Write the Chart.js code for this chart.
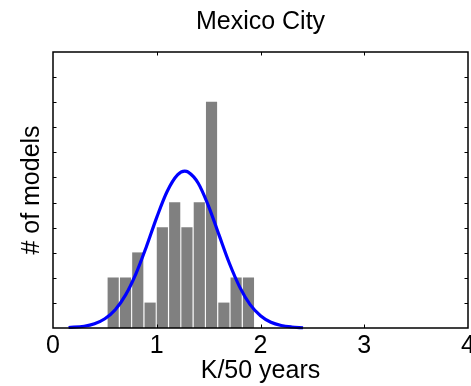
<!DOCTYPE html>
<html>
<head>
<meta charset="utf-8">
<script src="https://cdn.jsdelivr.net/npm/chart.js@4/dist/chart.umd.min.js"></script>
<style>
  html, body { margin: 0; padding: 0; background: #fff; }
  #wrap { width: 471px; height: 386px; }
</style>
</head>
<body>
<div id="wrap"><canvas id="histChart"></canvas></div>
<script>
// Histogram bins (K/50 years) and model counts
const binCenters = [0.580, 0.699, 0.817, 0.936, 1.054, 1.173, 1.291, 1.410, 1.528, 1.647, 1.765, 1.884];
const modelCounts = [2, 2, 3, 1, 4, 5, 4, 5, 9, 1, 2, 2];

// Fitted normal curve, sampled along the x axis
const fitX = [0.15, 0.3, 0.4, 0.5, 0.6, 0.7, 0.8, 0.9, 1.0, 1.1, 1.2, 1.27, 1.3, 1.4, 1.5, 1.6, 1.7, 1.8, 1.9, 2.0, 2.1, 2.2, 2.3, 2.41];
const fitY = [0.02, 0.07, 0.17, 0.37, 0.73, 1.32, 2.17, 3.24, 4.41, 5.44, 6.10, 6.25, 6.22, 5.77, 4.85, 3.71, 2.58, 1.63, 0.93, 0.49, 0.23, 0.10, 0.04, 0.01];

const xTicks = [0, 1, 2, 3, 4];
const yTicks = [1, 2, 3, 4, 5, 6, 7, 8, 9, 10];

const FONT = 'Liberation Sans, Arial, Helvetica, sans-serif';
const FONT_SIZE = 25;

// box around the plot with little inward ticks, plus the title
const framePlugin = {
  id: 'frame',
  afterDraw(chart) {
    const { ctx, chartArea: a, scales } = chart;
    const len = 3.5;
    ctx.save();
    ctx.strokeStyle = '#000';
    ctx.lineWidth = 1.5;
    ctx.strokeRect(a.left, a.top, a.right - a.left, a.bottom - a.top);
    ctx.lineWidth = 1;
    ctx.beginPath();
    yTicks.forEach(v => {
      const y = Math.round(scales.y.getPixelForValue(v)) + 0.5;
      ctx.moveTo(a.left, y); ctx.lineTo(a.left + len, y);
      ctx.moveTo(a.right, y); ctx.lineTo(a.right - len, y);
    });
    xTicks.slice(1, -1).forEach(v => {
      const x = Math.round(scales.x.getPixelForValue(v)) + 0.5;
      ctx.moveTo(x, a.bottom); ctx.lineTo(x, a.bottom - len);
      ctx.moveTo(x, a.top); ctx.lineTo(x, a.top + len);
    });
    ctx.stroke();

    ctx.fillStyle = '#000';
    ctx.font = FONT_SIZE + 'px ' + FONT;
    ctx.textAlign = 'center';
    ctx.textBaseline = 'middle';
    ctx.fillText('Mexico City', (a.left + a.right) / 2, 22);
    ctx.restore();
  }
};

const ctx = document.getElementById('histChart').getContext('2d');
const chart = new Chart(ctx, {
  type: 'bar',
  data: {
    datasets: [{
      type: 'line',
      order: 0,
      data: fitX.map((x, i) => ({ x: x, y: fitY[i] })),
      borderColor: '#0000ff',
      borderWidth: 3.2,
      pointRadius: 0,
      cubicInterpolationMode: 'monotone',
      fill: false,
      clip: false
    }, {
      type: 'bar',
      order: 1,
      data: binCenters.map((x, i) => ({ x: x, y: modelCounts[i] })),
      backgroundColor: '#808080',
      borderWidth: 0,
      barThickness: 10.5
    }]
  },
  options: {
    responsive: true,
    maintainAspectRatio: false,
    animation: false,
    layout: { padding: { left: 0, right: 3, top: 52, bottom: 0 } },
    plugins: {
      legend: { display: false },
      tooltip: { enabled: false }
    },
    scales: {
      x: {
        type: 'linear',
        offset: false,
        min: 0,
        max: 4,
        afterBuildTicks: s => { s.ticks = xTicks.map(v => ({ value: v })); },
        afterFit: s => { s.height = 58; s.paddingLeft = 0; s.paddingRight = 0; },
        grid: { display: false, drawTicks: false, offset: false },
        border: { display: false },
        ticks: { color: '#000', padding: 3, font: { family: FONT, size: FONT_SIZE } },
        title: {
          display: true,
          text: 'K/50 years',
          color: '#000',
          padding: { top: 0, bottom: 0 },
          font: { family: FONT, size: FONT_SIZE }
        }
      },
      y: {
        min: 0,
        max: 11,
        afterFit: s => { s.width = 53; },
        grid: { display: false, drawTicks: false },
        border: { display: false },
        ticks: { display: false },
        title: {
          display: true,
          text: '# of models',
          color: '#000',
          padding: { top: 17, bottom: 0 },
          font: { family: FONT, size: FONT_SIZE }
        }
      }
    }
  },
  plugins: [framePlugin]
});
</script>
</body>
</html>
